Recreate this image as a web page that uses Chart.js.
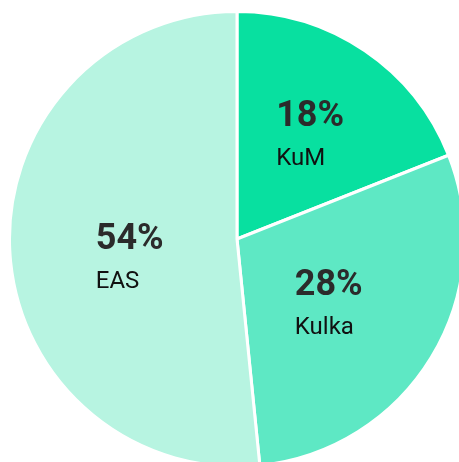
<!DOCTYPE html>
<html>
<head>
<meta charset="utf-8">
<script src="https://cdn.jsdelivr.net/npm/chart.js@4"></script>
<style>
  html, body { margin: 0; padding: 0; background: #fff; overflow: hidden; width: 459px; height: 462px; }
  #wrap { position: absolute; left: 8px; top: 10px; width: 458px; height: 458px; }
</style>
</head>
<body>
<div id="wrap"><canvas id="pieChart" width="458" height="458"></canvas></div>
<script>
const categories = ['KuM', 'Kulka', 'EAS'];
const shares = [19.0, 29.4, 51.6];
const pctLabels = ['18%', '28%', '54%'];
const sliceColors = ['#08e0a0', '#5ee8c4', '#b7f4e1'];

// draws "18%" + name as a left aligned block inside each slice
const sliceLabels = {
  id: 'sliceLabels',
  afterDatasetsDraw(chart, args, opts) {
    const ctx = chart.ctx;
    const meta = chart.getDatasetMeta(0);
    meta.data.forEach((arc, i) => {
      const p = arc.getProps(['x', 'y', 'startAngle', 'endAngle', 'outerRadius'], true);
      const mid = (p.startAngle + p.endAngle) / 2 + opts.angleShift[i] * Math.PI / 180;
      const r = p.outerRadius * opts.radius[i];
      const cx = p.x + Math.cos(mid) * r;
      const cy = p.y + Math.sin(mid) * r;
      ctx.save();
      ctx.font = 'bold 36px Roboto';
      const w1 = ctx.measureText(pctLabels[i]).width;
      ctx.font = '24px Roboto';
      const w2 = ctx.measureText(categories[i]).width;
      const left = cx - Math.max(w1, w2) / 2;
      ctx.textAlign = 'left';
      ctx.textBaseline = 'alphabetic';
      ctx.fillStyle = '#2b2b2b';
      ctx.font = 'bold 36px Roboto';
      ctx.fillText(pctLabels[i], left, cy - 7);
      ctx.fillStyle = '#111111';
      ctx.font = '24px Roboto';
      ctx.fillText(categories[i], left, cy + 32);
      ctx.restore();
    });
  }
};

new Chart(document.getElementById('pieChart'), {
  type: 'pie',
  data: {
    labels: categories,
    datasets: [{
      data: shares,
      backgroundColor: sliceColors,
      borderColor: '#ffffff',
      borderWidth: 3
    }]
  },
  options: {
    responsive: false,
    animation: false,
    layout: { padding: 0 },
    plugins: {
      legend: { display: false },
      tooltip: { enabled: false },
      sliceLabels: {
        radius: [0.565, 0.49, 0.477],
        angleShift: [0.5, 3.3, -5.9]
      }
    }
  },
  plugins: [sliceLabels]
});
</script>
</body>
</html>
